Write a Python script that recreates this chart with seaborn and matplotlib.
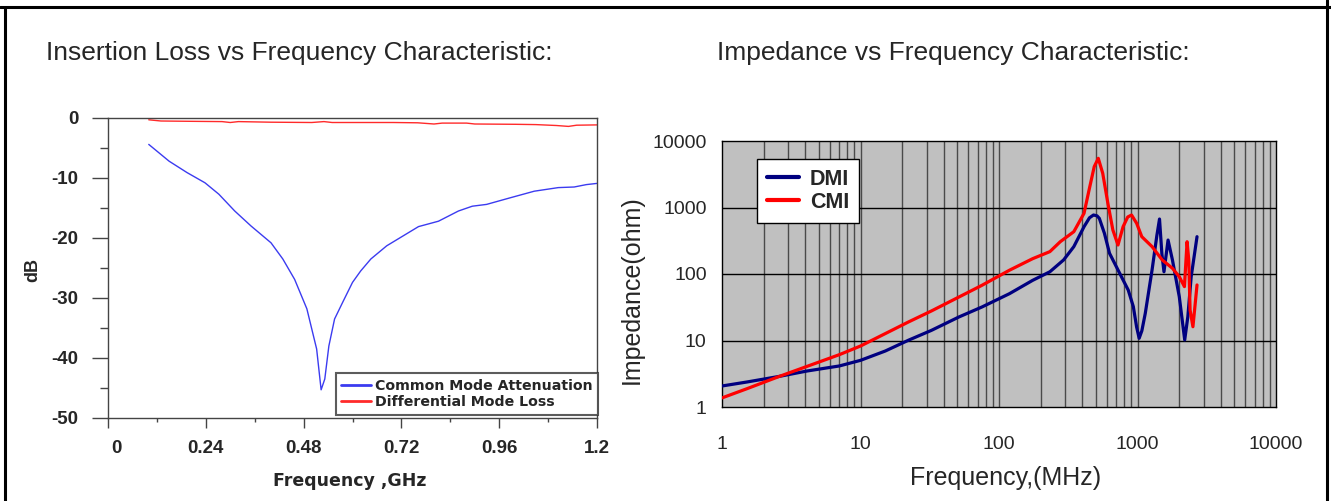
import numpy as np
import pandas as pd
import matplotlib
matplotlib.use("Agg")
import matplotlib.pyplot as plt
import seaborn as sns
from matplotlib.lines import Line2D
from matplotlib.ticker import FixedLocator, NullFormatter, NullLocator
from matplotlib.transforms import ScaledTranslation

sns.set_theme(style="white")
plt.rcParams["font.family"] = ["Liberation Sans", "DejaVu Sans"]

# ---------------- Insertion loss data (GHz, dB) ----------------
cm_freq = [0.10, 0.15, 0.194, 0.238, 0.272, 0.311, 0.351, 0.40, 0.429, 0.458,
           0.488, 0.512, 0.523, 0.532, 0.542, 0.556, 0.576, 0.60, 0.62, 0.645,
           0.684, 0.723, 0.762, 0.811, 0.86, 0.894, 0.929, 0.987, 1.046, 1.105,
           1.144, 1.174, 1.20]
cm_db = [-4.4, -7.2, -9.1, -10.8, -12.7, -15.5, -18.0, -20.8, -23.5, -26.9,
         -31.8, -38.5, -45.3, -43.5, -38.0, -33.5, -30.7, -27.4, -25.5, -23.5,
         -21.3, -19.7, -18.1, -17.2, -15.5, -14.7, -14.4, -13.3, -12.2, -11.6,
         -11.5, -11.1, -10.9]
dm_freq = [0.10, 0.13, 0.20, 0.28, 0.30, 0.32, 0.40, 0.50, 0.53, 0.55, 0.70,
           0.76, 0.80, 0.82, 0.88, 0.90, 1.00, 1.05, 1.10, 1.13, 1.15, 1.20]
dm_db = [-0.3, -0.5, -0.55, -0.6, -0.75, -0.6, -0.7, -0.75, -0.6, -0.75, -0.75,
         -0.8, -1.0, -0.85, -0.85, -1.0, -1.05, -1.1, -1.25, -1.4, -1.2, -1.15]
il_xticks = [0, 0.24, 0.48, 0.72, 0.96, 1.2]
il_xticklabels = ["0", "0.24", "0.48", "0.72", "0.96", "1.2"]
il_yticks = [0, -10, -20, -30, -40, -50]
il_yticklabels = ["0", "-10", "-20", "-30", "-40", "-50"]

# ---------------- Impedance data (MHz, ohm) ----------------
dmi_freq = [1, 1.52, 2.6, 4.12, 7.03, 10, 15.1, 22.2, 32.5, 51.4, 75.3, 119, 175,
            233, 293, 347, 411, 450, 481, 510, 530, 577, 628, 723, 857, 933, 985,
            1028, 1075, 1138, 1274, 1380, 1442, 1500, 1553, 1662, 1787, 2003,
            2192, 2309, 2441, 2690]
dmi_z = [2.07, 2.38, 2.89, 3.48, 4.14, 5.03, 6.95, 10.1, 14.2, 22.6, 31.9, 50.6,
         80.3, 108, 163, 258, 514, 700, 771, 750, 687, 409, 205, 115, 57.4, 32.3,
         16, 10.8, 14, 25.6, 115, 380, 671, 200, 108, 324, 163, 45.6, 10.2, 22.8,
         91, 364]
cmi_freq = [1, 1.52, 2.6, 4.12, 7.03, 10, 15.1, 22.2, 32.5, 51.4, 75.3, 119, 175,
            233, 277, 347, 411, 447, 487, 521, 561, 611, 664, 723, 787, 850, 906,
            986, 1074, 1274, 1507, 1787, 2003, 2182, 2280, 2345, 2397, 2513, 2583,
            2690]
cmi_z = [1.37, 1.89, 2.89, 4.09, 6.12, 8.26, 12.7, 19.0, 27.8, 45.1, 67.6, 114,
         170, 217, 306, 433, 817, 1833, 4110, 5487, 3267, 1157, 459, 273, 515,
         720, 771, 578, 364, 258, 163, 122, 91, 64.6, 306, 163, 28.7, 16.1, 28.7,
         68.4]
imp_ticks = [1, 10, 100, 1000, 10000]
imp_ticklabels = ["1", "10", "100", "1000", "10000"]

W, H = 1331, 501
fig = plt.figure(figsize=(W / 100, H / 100), dpi=100)
fig.patch.set_facecolor("white")

# ---------------- Left: insertion loss ----------------
ax1 = fig.add_axes([108 / W, 1 - 418 / H, 489 / W, 300 / H])
ax1.set_facecolor("white")
sns.lineplot(x=cm_freq, y=cm_db, ax=ax1, color="#3B3BF0", lw=1.0,
             estimator=None, sort=False, label="Common Mode Attenuation")
sns.lineplot(x=dm_freq, y=dm_db, ax=ax1, color="#FF2A2A", lw=1.0,
             estimator=None, sort=False, label="Differential Mode Loss")
ax1.set_xlim(0, 1.2)
ax1.set_ylim(-50, 0)
ax1.xaxis.set_major_locator(FixedLocator(il_xticks))
ax1.set_xticklabels(il_xticklabels)
ax1.xaxis.set_minor_locator(FixedLocator([0.12, 0.36, 0.60, 0.84, 1.08]))
ax1.yaxis.set_major_locator(FixedLocator(il_yticks))
ax1.set_yticklabels(il_yticklabels)
ax1.yaxis.set_minor_locator(FixedLocator([-5, -15, -25, -35, -45]))
ax1.tick_params(axis="both", which="both", direction="out", color="#444444",
                width=1.0, bottom=True, left=True, top=False, right=False)
ax1.tick_params(axis="y", which="major", length=11.5, pad=10, labelsize=13.5)
ax1.tick_params(axis="y", which="minor", length=6)
ax1.tick_params(axis="x", which="major", length=7, pad=9, labelsize=13.5)
ax1.tick_params(axis="x", which="minor", length=3)
for lab in ax1.get_xticklabels() + ax1.get_yticklabels():
    lab.set_fontweight("bold")
first = ax1.get_xticklabels()[0]
first.set_transform(first.get_transform() + ScaledTranslation(0.08, 0, fig.dpi_scale_trans))
for s in ax1.spines.values():
    s.set_color("#444444")
    s.set_linewidth(1.0)
ax1.set_xlabel("Frequency ,GHz", fontsize=12.5, fontweight="bold",
               family=["DejaVu Sans"])
ax1.xaxis.set_label_coords((350 - 108) / 489, (418 - 481) / 300)
ax1.xaxis.label.set_va("center")
ax1.set_ylabel("dB", fontsize=13, fontweight="bold")
ax1.yaxis.set_label_coords((33 - 108) / 489, (418 - 270) / 300)
ax1.yaxis.label.set_va("center")
leg1 = ax1.legend(loc="lower right", bbox_to_anchor=(1.003, 0.01),
                  frameon=True, fancybox=False, edgecolor="#333333",
                  prop=dict(weight="bold", size=10.2, family="DejaVu Sans"),
                  handlelength=2.1, borderpad=0.4, labelspacing=0.2,
                  handletextpad=0.3, borderaxespad=0)
leg1.get_frame().set_linewidth(1.5)
for h in leg1.get_lines():
    h.set_linewidth(2.0)

# ---------------- Right: impedance ----------------
ax2 = fig.add_axes([722 / W, 1 - 407 / H, 554 / W, 266 / H])
ax2.set_facecolor("#C0C0C0")
ax2.set_xscale("log")
ax2.set_yscale("log")
ax2.set_xlim(1, 10000)
ax2.set_ylim(1, 10000)
minor_x = [m * 10 ** d for d in range(4) for m in range(2, 10)]
for xv in minor_x + [10, 100, 1000]:
    ax2.axvline(xv, color="#4A4A4A", lw=1.0, zorder=1)
for yv in [10, 100, 1000]:
    ax2.axhline(yv, color="black", lw=1.0, zorder=1)
sns.lineplot(x=dmi_freq, y=dmi_z, ax=ax2, color="#000080", lw=2.3,
             estimator=None, sort=False, label="DMI", zorder=3)
sns.lineplot(x=cmi_freq, y=cmi_z, ax=ax2, color="#FF0000", lw=2.3,
             estimator=None, sort=False, label="CMI", zorder=4)
ax2.xaxis.set_major_locator(FixedLocator(imp_ticks))
ax2.set_xticklabels(imp_ticklabels)
ax2.xaxis.set_minor_locator(NullLocator())
ax2.yaxis.set_major_locator(FixedLocator(imp_ticks))
ax2.set_yticklabels(imp_ticklabels)
ax2.yaxis.set_minor_locator(NullLocator())
ax2.tick_params(axis="both", which="both", length=0, labelsize=14)
ax2.tick_params(axis="x", pad=21)
ax2.tick_params(axis="y", pad=11)
for s in ax2.spines.values():
    s.set_color("black")
    s.set_linewidth(1.0)
ax2.set_xlabel("Frequency,(MHz)", fontsize=18)
ax2.xaxis.set_label_coords((1006 - 722) / 554, (407 - 478) / 266)
ax2.xaxis.label.set_va("center")
ax2.set_ylabel("Impedance(ohm)", fontsize=18)
ax2.yaxis.set_label_coords((632 - 722) / 554, (407 - 290) / 266)
ax2.yaxis.label.set_va("center")
leg2 = ax2.legend(loc="upper left", bbox_to_anchor=((757 - 722) / 554, (407 - 159) / 266),
                  frameon=True, fancybox=False, edgecolor="black", facecolor="white",
                  framealpha=1, prop=dict(weight="bold", size=15.5),
                  handlelength=1.5, borderpad=0.45, labelspacing=0.1,
                  handletextpad=0.5, borderaxespad=0)
leg2.get_frame().set_linewidth(1.0)
for h in leg2.get_lines():
    h.set_linewidth(3.0)

# ---------------- Titles ----------------
fig.text(46 / W, 1 - 53 / H, "Insertion Loss vs Frequency Characteristic:",
         ha="left", va="center", fontsize=19)
fig.text(717 / W, 1 - 53 / H, "Impedance vs Frequency Characteristic:",
         ha="left", va="center", fontsize=19)

# ---------------- Frame lines ----------------
fig.add_artist(Line2D([0, 1], [1 - 7 / H, 1 - 7 / H], transform=fig.transFigure,
                      color="black", lw=2.2))
fig.add_artist(Line2D([5 / W, 5 / W], [0, 1 - 7 / H], transform=fig.transFigure,
                      color="black", lw=2.2))
fig.add_artist(Line2D([1327 / W, 1327 / W], [0, 1], transform=fig.transFigure,
                      color="black", lw=2.2))

fig.savefig("out.png", dpi=100, facecolor="white")
